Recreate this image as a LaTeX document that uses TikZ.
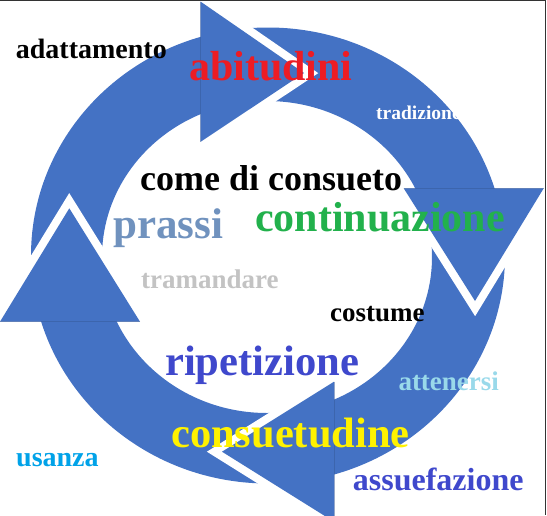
\documentclass[tikz,border=0pt]{standalone}
\usepackage{fontspec}
\setmainfont{Liberation Serif}
\definecolor{ringblue}{RGB}{68,114,196}
\definecolor{wordred}{RGB}{237,28,36}
\definecolor{wordgreen}{RGB}{34,177,76}
\definecolor{wordindigo}{RGB}{63,72,204}
\definecolor{wordyellow}{RGB}{255,242,0}
\definecolor{wordsky}{RGB}{0,162,232}
\definecolor{wordpale}{RGB}{153,217,234}
\definecolor{wordgray}{RGB}{195,195,195}
\definecolor{wordsteel}{RGB}{112,146,190}
\tikzset{
  word/.style={anchor=base west, inner sep=0pt, font=\fontsize{#1}{#1}\selectfont\bfseries},
  gapline/.style={draw=white, line width=16pt, line join=miter},
  headbase/.style={draw=ringblue!75!black, line width=0.6pt, opacity=0.45}
}

\begin{document}
\begin{tikzpicture}[x=1pt,y=-1pt]
\clip (0,0) rectangle (547,515);

\fill[ringblue,even odd rule] (268,255.5) ellipse [x radius=237pt, y radius=228pt]
  (267,257) ellipse [x radius=165pt, y radius=156pt];

\coordinate (topA) at (200.7,1.7);
\coordinate (topT) at (304,73);
\coordinate (topB) at (200.7,141.7);
\coordinate (rightA) at (543.7,188.3);
\coordinate (rightT) at (475,301);
\coordinate (rightB) at (403.7,188.3);
\coordinate (bottomA) at (334,521.7);
\coordinate (bottomT) at (222,451.7);
\coordinate (bottomB) at (334,381.7);
\coordinate (leftA) at (0,321.7);
\coordinate (leftT) at (69.3,208.3);
\coordinate (leftB) at (140,321.7);

\foreach \h in {top,right,bottom,left}{
  \draw[gapline] (\h A) -- (\h T) -- (\h B);
  \fill[ringblue] (\h A) -- (\h T) -- (\h B) -- cycle;
  \draw[headbase] (\h A) -- (\h B);
}

\node[word=28] (adattamento) at (15.7,58.5) {adattamento};
\node[word=42,text=wordred] (abitudini) at (189,80) {abitudini};
\node[word=19.5,text=white] (tradizione) at (376,119.3) {tradizione};
\node[word=36] (consueto) at (140,190) {come di consueto};
\node[word=43,text=wordsteel] (prassi) at (113,238) {prassi};
\node[word=42,text=wordgreen] (continuazione) at (255,231.7) {continuazione};
\node[word=27,text=wordgray] (tramandare) at (141,288.3) {tramandare};
\node[word=27] (costume) at (330,321.7) {costume};
\node[word=42.6,text=wordindigo] (ripetizione) at (165,375) {ripetizione};
\node[word=27,text=wordpale] (attenersi) at (398.3,390.7) {attenersi};
\node[word=42.5,text=wordyellow] (consuetudine) at (171,447) {consuetudine};
\node[word=28,text=wordsky] (usanza) at (16,466.7) {usanza};
\node[word=32,text=wordindigo] (assuefazione) at (352.7,490.7) {assuefazione};

\draw[line width=1.2pt,black!80] (0,0.6) -- (545.6,0.6) -- (545.6,515);
\end{tikzpicture}
\end{document}
